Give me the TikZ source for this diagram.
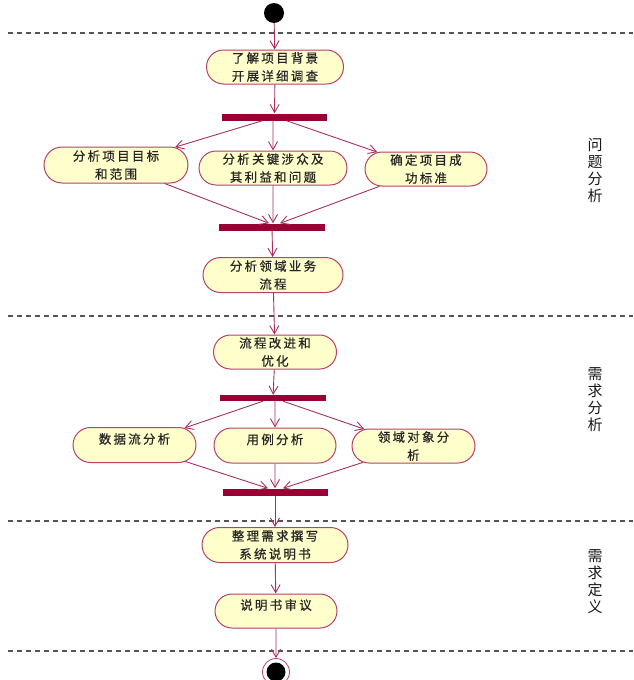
\documentclass[tikz,border=0pt]{standalone}
\usepackage{fontspec}
\usetikzlibrary{arrows.meta,shapes.misc,calc}
\newfontfamily\cjknode[LetterSpace=18,FakeBold=0.6]{Noto Sans CJK SC}
\newfontfamily\cjklabel{Noto Sans CJK SC}
\newcommand\upsix[1]{\raisebox{6pt}[\height][\depth]{#1}}
\definecolor{nodefill}{HTML}{FFFFCC}
\definecolor{nodeedge}{HTML}{B8406A}
\definecolor{linecol}{HTML}{A8305E}
\definecolor{barcol}{HTML}{990033}
\definecolor{dashcol}{HTML}{555555}
\tikzset{
  act/.style={rounded rectangle, draw=nodeedge, fill=nodefill, line width=1pt,
    inner sep=0pt, minimum height=34pt, align=center,
    font={\cjknode\fontsize{12.5}{18}\selectfont}, text=black!85},
  bar/.style={rectangle, fill=barcol, inner sep=0pt, minimum height=7pt, minimum width=105pt},
  arr/.style={draw=linecol, line width=0.9pt, -{Straight Barb[length=8pt,width=9pt]}},
  lane/.style={draw=dashcol, line width=1.5pt, dash pattern=on 5pt off 4pt},
  lbl/.style={align=center, font={\cjklabel\fontsize{15}{17}\selectfont}, text=black!90, inner sep=0pt}
}
\begin{document}
\begin{tikzpicture}[x=1pt,y=-1pt]
\useasboundingbox (0,0) rectangle (633,680);
% swimlane separators
\draw[lane] (8,33) -- (633,33);
\draw[lane] (8,316) -- (633,316);
\draw[lane] (8,521) -- (633,521);
\draw[lane] (8,651) -- (633,651);
% lane labels
\node[lbl] (L1) at (595,170) {问\\题\\分\\析};
\node[lbl] (L2) at (595,400) {需\\求\\分\\析};
\node[lbl] (L3) at (595,582) {需\\求\\定\\义};
% start
\node[circle, fill=black, minimum size=20pt, inner sep=0pt] (start) at (274,13) {};
% activities
\node[act, minimum width=137pt] (n1) at (275,67) {了解项目背景\\开展详细调查};
\node[bar] (b1) at (274.5,117) {};
\node[act, minimum width=144pt, minimum height=36pt] (a1) at (116,165) {分析项目目标\\和范围};
\node[act, minimum width=148pt] (a2) at (273,168) {分析关键涉众及\\其利益和问题};
\node[act, minimum width=122pt] (a3) at (426,169) {确定项目成\\功标准};
\node[bar, minimum width=106pt] (b2) at (272,227) {};
\node[act, minimum width=140pt, minimum height=35pt] (p1) at (273,275) {分析领域业务\\流程};
\node[act, minimum width=123pt] (q1) at (275,352) {流程改进和\\优化};
\node[bar, minimum width=106pt, minimum height=6pt] (b3) at (273,398) {};
\node[act, minimum width=123pt, minimum height=35pt] (d1) at (134.5,445) {\upsix{数据流分析}};
\node[act, minimum width=122pt, minimum height=35pt] (d2) at (275,445.5) {\upsix{用例分析}};
\node[act, minimum width=123pt] (d3) at (413.5,446) {领域对象分\\析};
\node[bar] (b4) at (275,492) {};
\node[act, minimum width=146pt, minimum height=35pt] (r1) at (275,545) {整理需求撰写\\系统说明书};
\node[act, minimum width=122pt] (r2) at (276,611) {\upsix{说明书审议}};
% end
\node[circle, draw=nodeedge, line width=0.8pt, fill=white, minimum size=27pt, inner sep=0pt,
  path picture={\fill[black] (path picture bounding box.center) circle (9.5pt);}] (end) at (276,672) {};
% connectors
\draw[arr] (start) -- (n1);
\draw[arr] (n1) -- (b1);
\draw[arr] ($(b1.south)+(-12,0)$) -- (a1);
\draw[arr] (b1.south -| a2.north) -- (a2);
\draw[arr] ($(b1.south)+(12,0)$) -- (a3);
\draw[arr] (a1) -- ($(b2.north)+(-3,0)$);
\draw[arr] (a2) -- (a2 |- b2.north);
\draw[arr] (a3) -- ($(b2.north)+(8,0)$);
\draw[arr] (b2) -- (p1);
\draw[arr] (p1) -- (q1);
\draw[arr] (q1) -- (b3);
\draw[arr] ($(b3.south)+(-10,0)$) -- (d1);
\draw[arr] (b3.south -| d2.north) -- (d2);
\draw[arr] ($(b3.south)+(10,0)$) -- (d3);
\draw[arr] (d1) -- ($(b4.north)+(-7,0)$);
\draw[arr] (d2) -- (d2 |- b4.north);
\draw[arr] (d3) -- ($(b4.north)+(8,0)$);
\draw[arr] (b4) -- (r1);
\draw[arr] (r1) -- (r2);
\draw[arr] (r2) -- (end);
\end{tikzpicture}
\end{document}
